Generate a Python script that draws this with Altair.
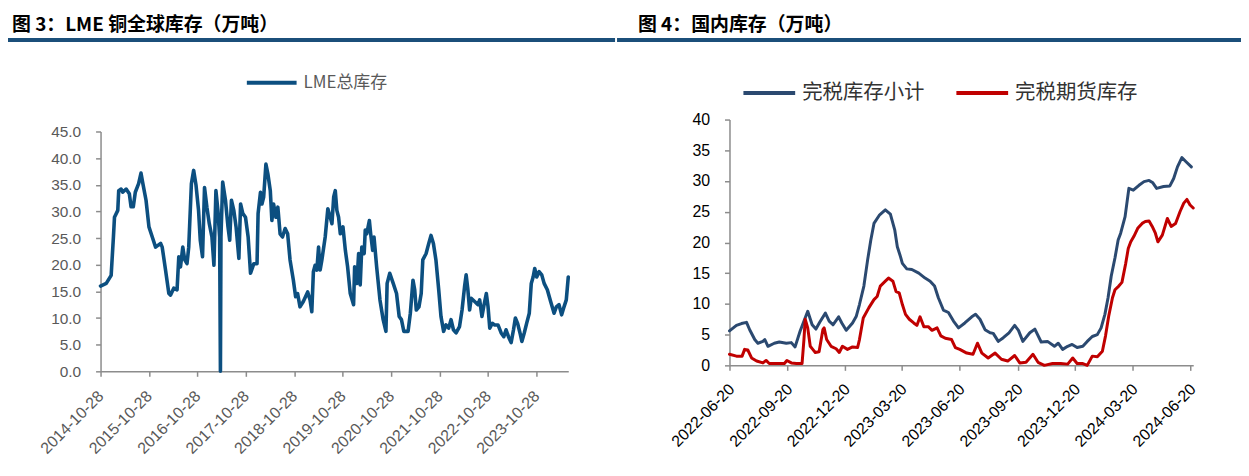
import altair as alt
import pandas as pd

FONT_NUM = "Liberation Sans"
FONT_CJK = "Noto Sans CJK SC"

left_title = "图 3：LME 铜全球库存（万吨）"
right_title = "图 4：国内库存（万吨）"
lme_name = "LME总库存"
tax_name = "完税库存小计"
fut_name = "完税期货库存"

lme_dates = [
    "2014-10-28", "2014-12-10", "2015-01-16", "2015-02-02", "2015-02-10", "2015-03-07", "2015-03-14",
    "2015-04-01", "2015-04-13", "2015-05-09", "2015-06-02", "2015-06-15", "2015-07-02", "2015-07-17",
    "2015-08-11", "2015-08-29", "2015-09-10", "2015-10-06", "2015-10-28", "2015-11-22", "2015-12-17",
    "2016-01-24", "2016-02-05", "2016-03-01", "2016-03-26", "2016-04-08", "2016-05-02", "2016-05-27",
    "2016-06-09", "2016-06-22", "2016-07-09", "2016-07-24", "2016-08-10", "2016-08-23", "2016-09-12",
    "2016-09-29", "2016-10-17", "2016-11-05", "2016-11-18", "2016-12-05", "2016-12-20", "2017-01-07",
    "2017-01-25", "2017-02-14", "2017-03-01", "2017-03-16", "2017-03-31", "2017-04-13", "2017-04-19",
    "2017-04-23", "2017-05-06", "2017-05-27", "2017-06-15", "2017-06-28", "2017-07-11", "2017-07-29",
    "2017-08-15", "2017-09-05", "2017-09-18", "2017-10-05", "2017-10-25", "2017-11-14", "2017-12-02",
    "2017-12-27", "2018-01-20", "2018-01-28", "2018-02-15", "2018-02-26", "2018-03-11", "2018-03-28",
    "2018-04-12", "2018-04-30", "2018-05-12", "2018-05-25", "2018-06-11", "2018-06-26", "2018-07-13",
    "2018-07-31", "2018-08-20", "2018-09-08", "2018-09-26", "2018-10-21", "2018-11-07", "2018-11-22",
    "2018-12-10", "2019-01-04", "2019-02-06", "2019-02-24", "2019-03-09", "2019-03-21", "2019-04-03",
    "2019-04-16", "2019-04-29", "2019-05-11", "2019-05-24", "2019-06-18", "2019-07-08", "2019-07-26",
    "2019-08-08", "2019-08-21", "2019-09-02", "2019-09-14", "2019-09-27", "2019-10-10", "2019-10-30",
    "2019-11-17", "2019-12-04", "2019-12-24", "2020-01-18", "2020-01-26", "2020-02-12", "2020-02-25",
    "2020-03-08", "2020-03-20", "2020-04-07", "2020-04-15", "2020-04-26", "2020-05-16", "2020-05-26",
    "2020-06-10", "2020-06-20", "2020-07-10", "2020-08-04", "2020-08-28", "2020-09-18", "2020-09-27",
    "2020-10-17", "2020-11-12", "2020-12-07", "2020-12-27", "2021-01-13", "2021-01-31", "2021-03-04",
    "2021-03-21", "2021-04-10", "2021-04-23", "2021-05-05", "2021-05-25", "2021-06-11", "2021-06-23",
    "2021-07-18", "2021-08-07", "2021-08-24", "2021-09-11", "2021-09-30", "2021-10-21", "2021-11-07",
    "2021-11-27", "2021-12-15", "2022-01-04", "2022-01-22", "2022-02-09", "2022-03-01", "2022-03-27",
    "2022-04-15", "2022-05-04", "2022-05-16", "2022-05-29", "2022-06-11", "2022-06-23", "2022-07-19",
    "2022-08-13", "2022-08-26", "2022-09-12", "2022-09-25", "2022-10-15", "2022-10-28", "2022-11-10",
    "2022-11-29", "2022-12-17", "2023-01-11", "2023-02-04", "2023-02-24", "2023-03-13", "2023-03-31",
    "2023-04-20", "2023-05-08", "2023-05-22", "2023-06-08", "2023-06-26", "2023-07-10", "2023-07-28",
    "2023-08-15", "2023-09-04", "2023-09-19", "2023-10-03", "2023-10-15", "2023-10-30", "2023-11-17",
    "2023-12-07", "2023-12-25", "2024-01-18", "2024-02-12", "2024-03-09", "2024-03-26", "2024-04-15",
    "2024-05-05", "2024-05-23", "2024-06-09", "2024-06-24",
]
lme_values = [
    16.0, 16.5, 18.0, 25.2, 28.9, 30.2, 33.9,
    34.2, 33.6, 34.2, 33.3, 30.9, 30.9, 33.6,
    35.2, 37.2, 35.5, 32.1, 27.1, 25.2, 23.3,
    24.0, 23.3, 19.0, 14.6, 14.3, 15.6, 15.3,
    21.5, 19.6, 23.3, 20.9, 20.2, 23.3, 35.2,
    37.7, 34.9, 30.2, 24.6, 21.5, 34.5, 30.8,
    27.7, 25.2, 19.9, 33.9, 30.2, 25.2, 0.0,
    25.2, 35.5, 32.1, 27.1, 24.6, 32.1, 30.2,
    27.1, 21.2, 31.4, 29.6, 28.9, 25.2, 18.4,
    20.2, 20.2, 29.6, 33.6, 31.4, 32.7, 38.9,
    37.0, 33.9, 28.3, 31.4, 28.9, 30.8, 25.8,
    25.2, 26.8, 25.8, 20.9, 17.1, 14.0, 14.6,
    12.1, 13.1, 14.9, 13.4, 11.2, 18.7, 19.9,
    19.0, 23.3, 19.0, 20.9, 25.2, 30.5, 28.9,
    27.7, 32.7, 33.9, 30.2, 28.9, 25.8, 27.1,
    22.7, 19.6, 14.6, 12.5, 19.6, 16.5, 22.1,
    16.2, 23.3, 22.1, 26.5, 25.8, 28.3, 25.8,
    22.7, 25.2, 19.6, 13.4, 9.7, 7.5, 16.5,
    18.4, 16.5, 14.6, 10.3, 9.7, 7.5, 7.5,
    10.9, 17.1, 15.3, 11.5, 12.1, 14.6, 20.9,
    22.1, 24.0, 25.5, 24.0, 20.9, 15.3, 10.3,
    7.5, 8.7, 8.1, 9.7, 7.8, 7.2, 8.4,
    11.5, 15.9, 18.1, 15.3, 11.5, 13.7, 13.1,
    12.5, 13.4, 10.3, 12.1, 14.6, 12.1, 8.1,
    9.0, 8.7, 8.7, 7.2, 6.5, 7.8, 6.5,
    5.4, 7.8, 10.0, 9.0, 7.2, 5.6, 7.2,
    9.0, 10.9, 16.5, 17.7, 19.3, 17.7, 18.7,
    18.1, 16.5, 15.3, 13.1, 10.9, 12.1, 12.5,
    10.6, 12.1, 13.4, 17.7,
]

tax_dates = [
    "2022-06-20", "2022-07-01", "2022-07-09", "2022-07-17", "2022-07-22", "2022-07-30", "2022-08-04",
    "2022-08-12", "2022-08-15", "2022-08-20", "2022-08-30", "2022-09-07", "2022-09-18", "2022-09-26",
    "2022-10-02", "2022-10-10", "2022-10-22", "2022-10-29", "2022-11-04", "2022-11-10", "2022-11-19",
    "2022-11-25", "2022-12-01", "2022-12-10", "2022-12-15", "2022-12-22", "2023-01-01", "2023-01-07",
    "2023-01-12", "2023-01-19", "2023-01-25", "2023-01-30", "2023-02-04", "2023-02-13", "2023-02-22",
    "2023-03-02", "2023-03-09", "2023-03-13", "2023-03-18", "2023-03-21", "2023-03-28", "2023-04-05",
    "2023-04-16", "2023-04-26", "2023-05-04", "2023-05-11", "2023-05-17", "2023-05-25", "2023-06-02",
    "2023-06-10", "2023-06-18", "2023-06-28", "2023-07-09", "2023-07-15", "2023-07-22", "2023-07-30",
    "2023-08-07", "2023-08-12", "2023-08-20", "2023-08-28", "2023-09-06", "2023-09-15", "2023-09-21",
    "2023-09-28", "2023-10-09", "2023-10-17", "2023-10-27", "2023-11-06", "2023-11-17", "2023-11-23",
    "2023-11-30", "2023-12-08", "2023-12-15", "2023-12-23", "2024-01-01", "2024-01-08", "2024-01-16",
    "2024-01-24", "2024-01-30", "2024-02-05", "2024-02-10", "2024-02-15", "2024-02-21", "2024-02-26",
    "2024-03-01", "2024-03-08", "2024-03-14", "2024-03-21", "2024-03-30", "2024-04-07", "2024-04-15",
    "2024-04-21", "2024-04-27", "2024-05-08", "2024-05-18", "2024-05-24", "2024-05-30", "2024-06-06",
    "2024-06-13", "2024-06-21",
]
tax_values = [
    5.6, 6.5, 6.8, 7.0, 5.8, 4.2, 3.6,
    3.9, 4.2, 3.1, 3.6, 3.8, 3.6, 3.7,
    3.0, 5.6, 8.8, 6.6, 5.9, 7.0, 8.5,
    7.2, 6.6, 7.9, 6.9, 5.7, 6.9, 8.0,
    9.9, 12.9, 17.2, 20.4, 23.1, 24.5, 25.3,
    24.6, 22.0, 19.3, 17.7, 16.6, 15.7, 15.6,
    15.0, 14.2, 13.7, 12.9, 11.0, 9.0, 8.6,
    7.2, 6.1, 6.9, 7.9, 8.3, 7.5, 5.8,
    5.3, 5.2, 3.9, 4.5, 5.3, 6.5, 5.7,
    3.9, 5.3, 5.9, 3.8, 3.9, 3.1, 3.6,
    2.6, 3.1, 3.4, 2.9, 3.1, 3.9, 4.7,
    5.0, 6.1, 8.3, 11.0, 14.5, 17.5, 20.4,
    21.5, 24.2, 28.8, 28.5, 29.3, 29.9, 30.1,
    29.7, 28.8, 29.1, 29.2, 30.4, 32.3, 33.8,
    33.1, 32.3,
]

fut_dates = [
    "2022-06-20", "2022-07-01", "2022-07-10", "2022-07-14", "2022-07-19", "2022-07-25", "2022-08-02",
    "2022-08-12", "2022-08-17", "2022-08-22", "2022-09-07", "2022-09-15", "2022-09-19", "2022-09-26",
    "2022-10-04", "2022-10-13", "2022-10-16", "2022-10-18", "2022-10-22", "2022-10-26", "2022-10-30",
    "2022-11-03", "2022-11-09", "2022-11-15", "2022-11-17", "2022-11-21", "2022-11-28", "2022-12-06",
    "2022-12-11", "2022-12-16", "2022-12-24", "2023-01-01", "2023-01-09", "2023-01-12", "2023-01-18",
    "2023-01-27", "2023-02-04", "2023-02-09", "2023-02-14", "2023-02-22", "2023-02-27", "2023-03-06",
    "2023-03-11", "2023-03-16", "2023-03-21", "2023-03-26", "2023-04-01", "2023-04-08", "2023-04-13",
    "2023-04-18", "2023-04-24", "2023-05-01", "2023-05-07", "2023-05-15", "2023-05-21", "2023-05-28",
    "2023-06-07", "2023-06-13", "2023-06-20", "2023-07-01", "2023-07-11", "2023-07-18", "2023-07-25",
    "2023-08-04", "2023-08-15", "2023-08-25", "2023-09-04", "2023-09-15", "2023-09-23", "2023-10-03",
    "2023-10-14", "2023-10-22", "2023-11-01", "2023-11-14", "2023-11-27", "2023-12-08", "2023-12-16",
    "2023-12-23", "2024-01-01", "2024-01-08", "2024-01-16", "2024-01-24", "2024-02-01", "2024-02-06",
    "2024-02-11", "2024-02-17", "2024-02-21", "2024-02-27", "2024-03-03", "2024-03-09", "2024-03-13",
    "2024-03-17", "2024-03-22", "2024-03-28", "2024-04-04", "2024-04-09", "2024-04-15", "2024-04-20",
    "2024-04-25", "2024-04-29", "2024-05-06", "2024-05-14", "2024-05-20", "2024-05-27", "2024-06-03",
    "2024-06-09", "2024-06-14", "2024-06-19", "2024-06-24",
]
fut_values = [
    1.8, 1.5, 1.5, 2.6, 2.5, 1.2, 0.7,
    0.4, 0.8, 0.3, 0.3, 0.3, 0.8, 0.4,
    0.3, 0.3, 4.2, 7.5, 6.1, 3.1, 2.6,
    2.1, 2.2, 5.8, 6.1, 4.2, 3.1, 2.7,
    2.1, 3.1, 2.6, 3.0, 2.9, 4.2, 7.7,
    9.4, 10.7, 11.2, 12.9, 13.7, 14.2, 13.7,
    12.0, 11.8, 9.9, 8.3, 7.5, 6.9, 6.5,
    7.9, 6.3, 6.3, 5.7, 6.1, 4.8, 4.4,
    4.2, 2.9, 2.6, 2.0, 1.8, 3.6, 2.0,
    1.2, 2.0, 1.0, 0.7, 1.6, 0.4, 0.5,
    1.8, 0.5, 0.0, 0.3, 0.3, 0.2, 1.2,
    0.3, 0.3, 0.0, 1.5, 1.4, 2.3, 4.8,
    8.0, 11.0, 12.3, 12.9, 13.5, 16.6, 19.0,
    20.1, 21.0, 22.3, 23.1, 23.4, 23.5, 22.6,
    21.5, 20.1, 21.2, 23.9, 22.6, 23.1, 25.0,
    26.4, 27.0, 26.1, 25.6,
]

lme_ticks = ["2014-10-28", "2015-10-28", "2016-10-28", "2017-10-28", "2018-10-28",
             "2019-10-28", "2020-10-28", "2021-10-28", "2022-10-28", "2023-10-28"]
lme_domain = ["2014-10-28", "2024-06-24"]
dom_ticks = ["2022-06-20", "2022-09-20", "2022-12-20", "2023-03-20", "2023-06-20",
             "2023-09-20", "2023-12-20", "2024-03-20", "2024-06-20"]
dom_domain = ["2022-06-20", "2024-06-24"]
lme_yticks = [0, 5, 10, 15, 20, 25, 30, 35, 40, 45]
dom_yticks = [0, 5, 10, 15, 20, 25, 30, 35, 40]


def dt(s):
    y, m, d = (int(p) for p in s.split("-"))
    return alt.DateTime(year=y, month=m, date=d, utc=True)


one = pd.DataFrame({"k": [0]})
BAR = "#1B4F7A"
TITLE_Y = -95

# ---------------- left panel ----------------
lme_df = pd.DataFrame({"date": lme_dates, "value": lme_values, "series": [lme_name] * len(lme_dates)})

left_line = alt.Chart(lme_df).mark_line(strokeWidth=3.6, strokeJoin="round", strokeCap="round").encode(
    x=alt.X("date:T",
            scale=alt.Scale(type="utc", domain=[dt(s) for s in lme_domain]),
            axis=alt.Axis(values=[dt(s) for s in lme_ticks], format="%Y-%m-%d", title=None, grid=False,
                          labelAngle=-45, labelAlign="right", labelBaseline="middle",
                          labelPadding=17, labelOffset=0, labelFlush=False, labelOverlap=False, labelBound=False,
                          labelFont=FONT_NUM, labelFontSize=16, labelColor="#595959",
                          domainColor="#8C8C8C", domainWidth=1.5, tickColor="#8C8C8C", tickWidth=1.5, tickSize=5)),
    y=alt.Y("value:Q",
            scale=alt.Scale(domain=[0, 45], range=[253, 12], nice=False, zero=False),
            axis=alt.Axis(values=lme_yticks, format=".1f", title=None, grid=False,
                          labelPadding=15, labelFont=FONT_NUM, labelFontSize=15.5, labelColor="#595959",
                          domainColor="#8C8C8C", domainWidth=1.5, tickColor="#8C8C8C", tickWidth=1.5, tickSize=5)),
    color=alt.Color("series:N",
                    scale=alt.Scale(domain=[lme_name], range=["#0C4F80"]),
                    legend=alt.Legend(orient="none", legendX=145, legendY=-64, title=None, padding=0,
                                      symbolType="stroke", symbolSize=2500, symbolStrokeWidth=4,
                                      labelOffset=5, labelFont=FONT_CJK, labelFontSize=17, labelColor="#595959")),
)

left_pad = alt.Chart(one).mark_rect(color="#FFFFFF").encode(
    x=alt.value(-93), x2=alt.value(-92), y=alt.value(-111), y2=alt.value(-110))
left_bar = alt.Chart(one).mark_rect(color=BAR).encode(
    x=alt.value(-93), x2=alt.value(517), y=alt.value(-82), y2=alt.value(-78))
left_text = alt.Chart(one).mark_text(align="left", baseline="middle", font=FONT_CJK, fontSize=19,
                                     fontWeight="bold", color="#000000").encode(
    x=alt.value(-89), y=alt.value(TITLE_Y), text=alt.value(left_title))

left = alt.layer(left_pad, left_bar, left_text, left_line).properties(width=470, height=253)

# ---------------- right panel ----------------
dom_df = pd.concat([
    pd.DataFrame({"date": tax_dates, "value": tax_values, "series": [tax_name] * len(tax_dates)}),
    pd.DataFrame({"date": fut_dates, "value": fut_values, "series": [fut_name] * len(fut_dates)}),
], ignore_index=True)

right_line = alt.Chart(dom_df).mark_line(strokeWidth=3, strokeJoin="round", strokeCap="round").encode(
    x=alt.X("date:T",
            scale=alt.Scale(type="utc", domain=[dt(s) for s in dom_domain]),
            axis=alt.Axis(values=[dt(s) for s in dom_ticks], format="%Y-%m-%d", title=None, grid=False,
                          labelAngle=-45, labelAlign="right", labelBaseline="middle",
                          labelPadding=16, labelOffset=2, labelFlush=False, labelOverlap=False, labelBound=False,
                          labelFont=FONT_NUM, labelFontSize=16, labelColor="#000000",
                          domainColor="#8C8C8C", domainWidth=1.5, tickColor="#8C8C8C", tickWidth=1.5, tickSize=5)),
    y=alt.Y("value:Q",
            scale=alt.Scale(domain=[0, 40], nice=False, zero=False),
            axis=alt.Axis(values=dom_yticks, format="d", title=None, grid=False,
                          labelPadding=15, labelFont=FONT_NUM, labelFontSize=16, labelColor="#000000",
                          domainColor="#8C8C8C", domainWidth=1.5, tickColor="#8C8C8C", tickWidth=1.5, tickSize=5)),
    color=alt.Color("series:N",
                    scale=alt.Scale(domain=[tax_name, fut_name], range=["#2B4970", "#C00000"]),
                    legend=alt.Legend(orient="none", legendX=12, legendY=-55, title=None, padding=0,
                                      direction="horizontal", columnPadding=24,
                                      symbolType="stroke", symbolSize=2704, symbolStrokeWidth=4,
                                      labelOffset=5, labelFont=FONT_CJK, labelFontSize=20.5, labelColor="#333333",
                                      labelLimit=300)),
)

right_pad = alt.Chart(one).mark_rect(color="#FFFFFF").encode(
    x=alt.value(-113), x2=alt.value(-112), y=alt.value(-111), y2=alt.value(-110))
right_bar = alt.Chart(one).mark_rect(color=BAR).encode(
    x=alt.value(-113), x2=alt.value(514), y=alt.value(-82), y2=alt.value(-78))
right_text = alt.Chart(one).mark_text(align="left", baseline="middle", font=FONT_CJK, fontSize=19,
                                      fontWeight="bold", color="#000000").encode(
    x=alt.value(-92), y=alt.value(TITLE_Y), text=alt.value(right_title))

right = alt.layer(right_pad, right_bar, right_text, right_line).properties(width=466, height=247)

chart = (
    alt.hconcat(left, right, spacing=2)
    .resolve_scale(color="independent", x="independent", y="independent")
    .resolve_legend(color="independent")
    .properties(padding=0)
    .configure_view(stroke=None)
)

chart.save("out.html", embed_options={"renderer": "svg", "actions": False})
